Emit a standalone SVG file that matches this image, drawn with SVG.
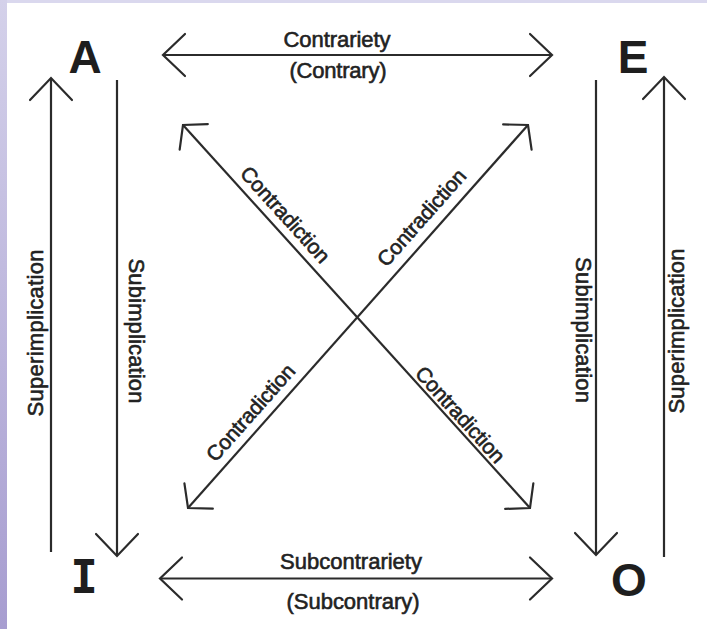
<svg xmlns="http://www.w3.org/2000/svg" width="707" height="629" viewBox="0 0 707 629">
<defs>
<linearGradient id="side" x1="0" y1="0" x2="0" y2="1">
<stop offset="0" stop-color="#d4d1ea"/>
<stop offset="1" stop-color="#a79dd0"/>
</linearGradient>
<marker id="hv" markerUnits="userSpaceOnUse" markerWidth="60" markerHeight="60" viewBox="-30 -30 60 60" refX="0" refY="0" orient="auto-start-reverse" overflow="visible">
<path d="M-22,-21 L0,0 L-22,21" fill="none" stroke="#2b2b2b" stroke-width="2.2" stroke-linecap="round" stroke-linejoin="miter"/>
</marker>
<marker id="dg" markerUnits="userSpaceOnUse" markerWidth="60" markerHeight="60" viewBox="-30 -30 60 60" refX="0" refY="0" orient="auto-start-reverse" overflow="visible">
<path d="M-16,-19 L0,0 L-16,19" fill="none" stroke="#2b2b2b" stroke-width="2.2" stroke-linecap="round"/>
</marker>
</defs>
<style>
.ln{stroke:#2b2b2b;stroke-width:2.2;fill:none}
.lbl{font-family:"Liberation Sans",Arial,sans-serif;font-size:22px;fill:#222;stroke:#222;stroke-width:0.6;text-anchor:middle}
.dl{font-family:"Liberation Sans",Arial,sans-serif;font-size:21px;fill:#222;stroke:#222;stroke-width:0.6;text-anchor:middle}
.node{font-family:"Liberation Sans",Arial,sans-serif;font-size:46px;font-weight:bold;fill:#1e1e1e;text-anchor:middle}
</style>
<rect x="0" y="0" width="707" height="629" fill="#ffffff"/>
<rect x="0" y="0" width="707" height="3" fill="#dad8ee"/>
<rect x="0" y="0" width="7" height="629" fill="url(#side)"/>

<g id="connectors">
<line class="ln" x1="163" y1="55" x2="552" y2="55" marker-start="url(#hv)" marker-end="url(#hv)"/>
<line class="ln" x1="160" y1="578.5" x2="552" y2="578.5" marker-start="url(#hv)" marker-end="url(#hv)"/>
<line class="ln" x1="51" y1="552" x2="51" y2="78" marker-end="url(#hv)"/>
<line class="ln" x1="117" y1="80" x2="117" y2="556" marker-end="url(#hv)"/>
<line class="ln" x1="596" y1="80" x2="596" y2="555" marker-end="url(#hv)"/>
<line class="ln" x1="664" y1="557" x2="664" y2="77" marker-end="url(#hv)"/>
<line class="ln" x1="183" y1="125" x2="530" y2="508" marker-start="url(#dg)" marker-end="url(#dg)"/>
<line class="ln" x1="188" y1="508" x2="528" y2="125" marker-start="url(#dg)" marker-end="url(#dg)"/>
</g>

<g id="connector-labels">
<text class="lbl" x="337" y="47" textLength="107" lengthAdjust="spacing">Contrariety</text>
<text class="lbl" x="338" y="78" textLength="97" lengthAdjust="spacing">(Contrary)</text>
<text class="lbl" x="351" y="569" textLength="142" lengthAdjust="spacing">Subcontrariety</text>
<text class="lbl" x="353" y="609" textLength="133" lengthAdjust="spacing">(Subcontrary)</text>
<text class="lbl" transform="translate(43,333) rotate(-90)" textLength="167" lengthAdjust="spacing">Superimplication</text>
<text class="lbl" transform="translate(129,331) rotate(90)" textLength="145" lengthAdjust="spacing">Subimplication</text>
<text class="lbl" transform="translate(576,330) rotate(90)" textLength="146" lengthAdjust="spacing">Subimplication</text>
<text class="lbl" transform="translate(684,331) rotate(-90)" textLength="165" lengthAdjust="spacing">Superimplication</text>
<text class="dl" transform="translate(280,219.4) rotate(47.8)" textLength="122" lengthAdjust="spacing">Contradiction</text>
<text class="dl" transform="translate(427,222.3) rotate(-48.4)" textLength="122" lengthAdjust="spacing">Contradiction</text>
<text class="dl" transform="translate(256,417.3) rotate(-48.4)" textLength="122" lengthAdjust="spacing">Contradiction</text>
<text class="dl" transform="translate(455,419.4) rotate(47.8)" textLength="122" lengthAdjust="spacing">Contradiction</text>
</g>

<g id="node-A"><text class="node" x="85" y="73">A</text></g>
<g id="node-E"><text class="node" x="633" y="73">E</text></g>
<g id="node-I"><text class="node" x="84" y="593" style="font-family:'DejaVu Sans Mono',monospace">I</text></g>
<g id="node-O"><text class="node" x="629" y="596">O</text></g>
</svg>
